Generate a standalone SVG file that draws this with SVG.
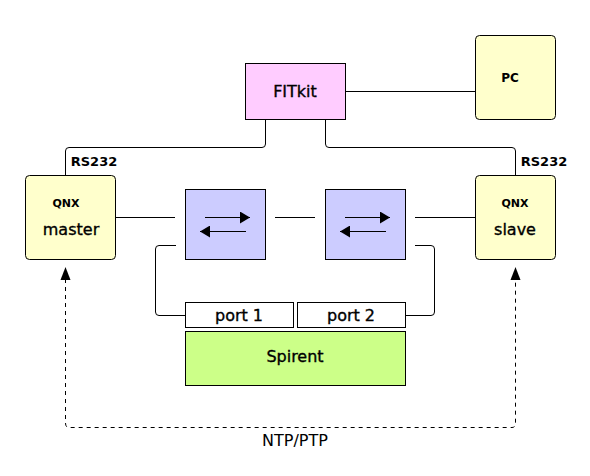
<svg xmlns="http://www.w3.org/2000/svg" width="590" height="476" viewBox="0 0 590 476">
<style>
.b{stroke:#000;stroke-width:1}
.y{fill:#ffffcc}
.p{fill:#ffccff}
.s{fill:#ccccff}
.g{fill:#ccff88}
.w{fill:#ffffff}
.c{fill:none;stroke:#000;stroke-width:1}
.d{fill:none;stroke:#000;stroke-width:1;stroke-dasharray:4,4}
text{font-family:"DejaVu Sans",Verdana,sans-serif;fill:#000;text-anchor:middle}
.n{font-size:16px}
.h{font-size:16px;stroke:#000;stroke-width:0.35}
.sm{font-size:11px;font-weight:bold}
.m{font-size:13px;font-weight:bold}
</style>
<defs>
<marker id="ah" markerWidth="10" markerHeight="12" refX="10" refY="6" orient="auto" markerUnits="userSpaceOnUse">
<path d="M0,0 L10,6 L0,12 Z" fill="#000"/>
</marker>
</defs>
<g id="connectors">
<path class="c" d="M345,91.5 H475"/>
<path class="c" d="M265.5,119 V144 Q265.5,147.5 262,147.5 H69 Q65.5,147.5 65.5,151 V175"/>
<path class="c" d="M325.5,119 V144 Q325.5,147.5 329,147.5 H512 Q515.5,147.5 515.5,151 V175"/>
<path class="c" d="M115,217.5 H175"/>
<path class="c" d="M275,217.5 H315"/>
<path class="c" d="M415,217.5 H475"/>
<path class="c" d="M176,245.5 H159 Q155.5,245.5 155.5,249 V312 Q155.5,315.5 159,315.5 H185"/>
<path class="c" d="M415,245.5 H431 Q434.5,245.5 434.5,249 V312 Q434.5,315.5 431,315.5 H405"/>
<path class="d" d="M65.5,279 V423 Q65.5,427.5 69,427.5 H512 Q515.5,427.5 515.5,423 V279"/>
<path d="M60.5,280 L65.5,267 L70.5,280 Z" fill="#000"/>
<path d="M510.5,280 L515.5,267 L520.5,280 Z" fill="#000"/>
<text class="m" x="94" y="166">RS232</text>
<text class="m" x="544" y="166">RS232</text>
<text class="n" x="295" y="446">NTP/PTP</text>
</g>
<g id="fitkit">
<rect class="b p" x="245.5" y="63.5" width="100" height="56"/>
<text class="h" x="295" y="97">FITkit</text>
</g>
<g id="pc">
<rect class="b y" x="475.5" y="35.5" width="80" height="84" rx="4"/>
<text class="m" x="510" y="82" style="font-size:12px">PC</text>
</g>
<g id="qnx-master">
<rect class="b y" x="25.5" y="175.5" width="90" height="84" rx="4"/>
<text class="sm" x="66" y="207">QNX</text>
<text class="h" x="71" y="235">master</text>
</g>
<g id="qnx-slave">
<rect class="b y" x="475.5" y="175.5" width="80" height="84" rx="4"/>
<text class="sm" x="515" y="207">QNX</text>
<text class="h" x="515" y="235">slave</text>
</g>
<g id="switch1">
<rect class="b s" x="185.5" y="189.5" width="80" height="70"/>
<path class="c" d="M205,217.5 H250" marker-end="url(#ah)"/>
<path class="c" d="M246,231.5 H200" marker-end="url(#ah)"/>
</g>
<g id="switch2">
<rect class="b s" x="325.5" y="189.5" width="80" height="70"/>
<path class="c" d="M345,217.5 H390" marker-end="url(#ah)"/>
<path class="c" d="M386,231.5 H340" marker-end="url(#ah)"/>
</g>
<g id="port1">
<rect class="b w" x="185.5" y="302.5" width="108" height="25"/>
<text class="h" x="239" y="321">port 1</text>
</g>
<g id="port2">
<rect class="b w" x="297.5" y="302.5" width="108" height="25"/>
<text class="h" x="351" y="321">port 2</text>
</g>
<g id="spirent">
<rect class="b g" x="185.5" y="331.5" width="220" height="54"/>
<text class="h" x="295" y="362">Spirent</text>
</g>
</svg>
